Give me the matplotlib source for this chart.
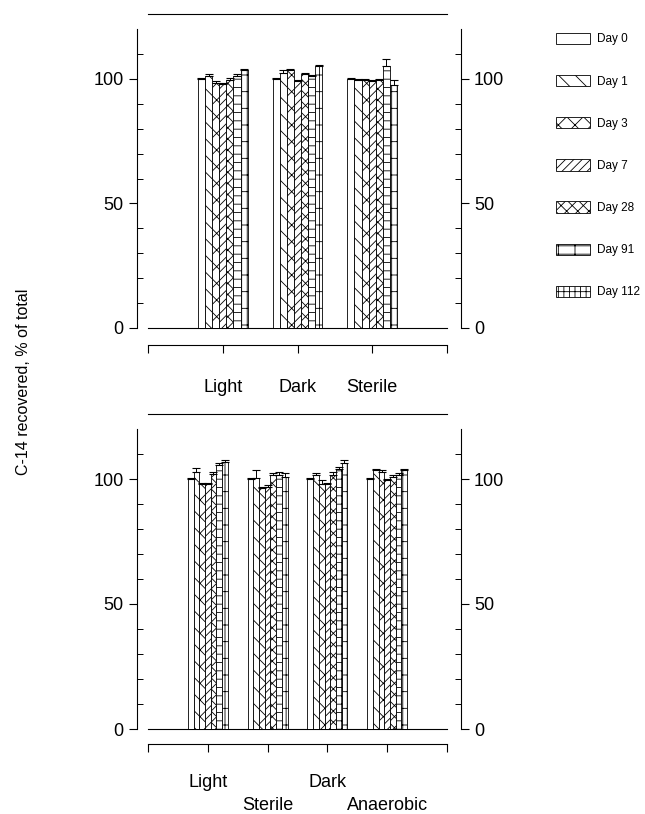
import matplotlib
matplotlib.use('Agg')
import matplotlib.pyplot as plt
from matplotlib.patches import Patch
import numpy as np

plt.rcParams['font.family'] = ['Liberation Sans', 'DejaVu Sans']
plt.rcParams['hatch.linewidth'] = 0.6

# 凡例（サンプリング日）
days = ['Day 0', 'Day 1', 'Day 3', 'Day 7', 'Day 28', 'Day 91', 'Day 112']
hatches = ['', '\\\\', 'xx', '////', 'xxx', '-+', '||+']

# 上段：処理区と回収率 (%)
top_groups = ['Light', 'Dark', 'Sterile']
top_values = [
    [100, 101, 98.5, 98, 99.5, 101, 103.5],
    [100, 102.5, 103.5, 99, 102, 101, 105],
    [100, 99.5, 99.5, 99, 99.5, 105, 97.5],
]
top_errors = [
    [0.5, 1, 0.5, 0.5, 1, 1, 0.5],
    [0.5, 1, 0.5, 0.5, 0.5, 0.5, 0.5],
    [0.3, 0.5, 0.5, 0.5, 0.5, 3, 2],
]

# 下段
bot_groups = ['Light', '\nSterile', 'Dark', '\nAnaerobic']
bot_values = [
    [100, 103, 98, 98, 102, 105.5, 107],
    [100, 100.5, 96.5, 97, 101.5, 101.5, 101],
    [100, 101.5, 98, 98, 101.5, 104, 106.5],
    [100, 103.5, 103, 99.5, 101, 101.5, 103.5],
]
bot_errors = [
    [0.5, 1.5, 0.5, 0.5, 1, 1, 0.8],
    [0.5, 3, 0.5, 0.5, 1, 1.5, 1.5],
    [0.5, 1, 1.5, 0.5, 1.5, 1, 1],
    [0.5, 0.5, 0.5, 0.5, 0.5, 1, 0.5],
]

W, H = 645, 814
fig = plt.figure(figsize=(W / 100, H / 100), dpi=100)


def px_axes(x0, x1, ybot, ytop):
    return fig.add_axes([x0 / W, (H - ybot) / H, (x1 - x0) / W, (ybot - ytop) / H])


def draw_panel(ax, groups, values, errors, bottom_out, label_pad, spacing):
    n = len(groups)
    bw = 0.667 / len(days)
    for g in range(n):
        for d in range(len(days)):
            x = g + 1 - 0.667 / 2 + bw * (d + 0.5)
            ax.bar(x, values[g][d], width=bw, color='white', edgecolor='black',
                   linewidth=0.6, hatch=hatches[d], zorder=2)
            ax.errorbar(x, values[g][d], yerr=[[0], [errors[g][d]]], fmt='none',
                        ecolor='black', elinewidth=0.7, capsize=3, capthick=0.8, zorder=3)
    ax.axhline(0, color='black', linewidth=0.8, zorder=1, clip_on=False)
    ax.set_xlim(0, n + 1)
    ax.set_ylim(0, 120)

    ax.spines['left'].set_position(('outward', 8))
    ax.spines['right'].set_position(('outward', 10))
    ax.spines['top'].set_position(('outward', 11))
    ax.spines['bottom'].set_position(('outward', bottom_out))
    for s in ax.spines.values():
        s.set_linewidth(0.8)

    ax.set_yticks([0, 50, 100])
    ax.set_yticks(np.arange(10, 120, 10), minor=True)
    ax.tick_params(axis='y', which='major', direction='out', length=6, width=0.8,
                   labelsize=13, left=True, right=True, labelleft=True, labelright=True)
    ax.tick_params(axis='y', which='minor', direction='in', length=4, width=0.7,
                   left=True, right=True)

    ax.set_xticks(np.arange(0, n + 2))
    ax.set_xticklabels([''] + groups + [''])
    ax.tick_params(axis='x', direction='out', length=6, width=0.8, labelsize=13,
                   pad=label_pad, top=False)
    for lab in ax.get_xticklabels():
        lab.set_linespacing(spacing)


ax1 = px_axes(148, 447, 328, 29)
draw_panel(ax1, top_groups, top_values, top_errors, 12, 18.5, 1.2)

ax2 = px_axes(148, 447, 729, 429)
draw_panel(ax2, bot_groups, bot_values, bot_errors, 11, 15.5, 1.45)

fig.text(24 / W, 1 - 382 / H, 'C-14 recovered, % of total', rotation=90,
         ha='center', va='center', fontsize=11.5)

handles = [Patch(facecolor='white', edgecolor='black', linewidth=0.6, hatch=h)
           for h in hatches]
fig.legend(handles, days, loc='upper left', bbox_to_anchor=(545 / W, 1 - 22 / H),
           frameon=False, fontsize=8.5, handlelength=2.9, handleheight=1.1,
           labelspacing=2.5, handletextpad=0.6)

fig.savefig('out.png', dpi=100)
